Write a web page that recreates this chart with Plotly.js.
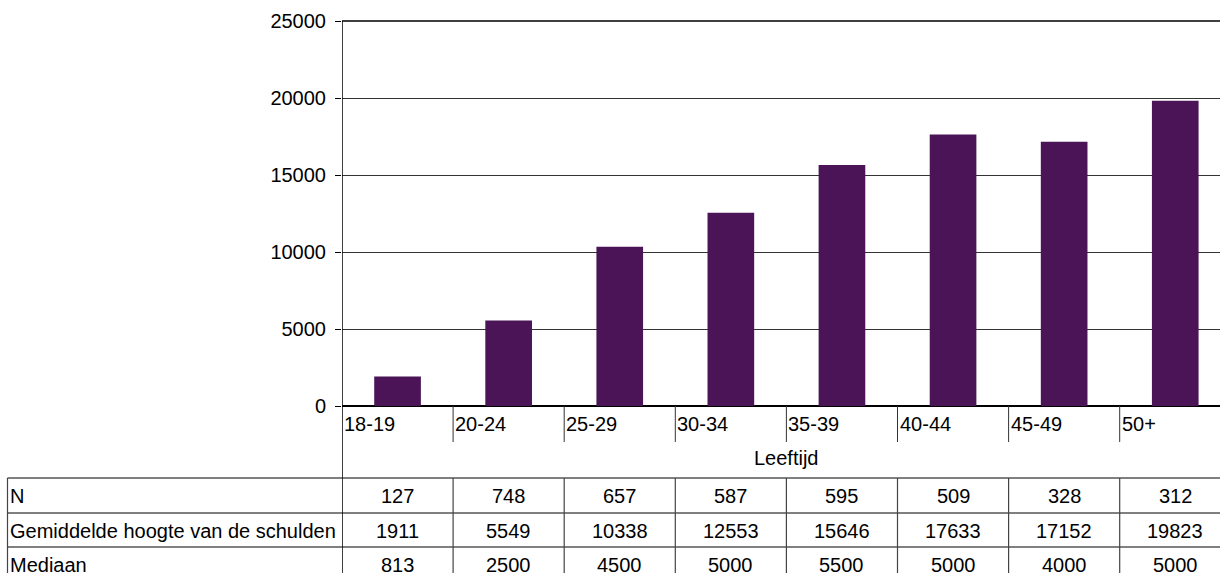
<!DOCTYPE html>
<html>
<head>
<meta charset="utf-8">
<script src="https://cdn.plot.ly/plotly-3.0.1.min.js"></script>
<style>
html, body { margin: 0; padding: 0; background: #fff; overflow: hidden; }
#chart { width: 1220px; height: 573px; }
</style>
</head>
<body>
<div id="chart"></div>
<script>
// ---- data ----
const categories = ['18-19', '20-24', '25-29', '30-34', '35-39', '40-44', '45-49', '50+'];
const nValues = [127, 748, 657, 587, 595, 509, 328, 312];
const meanValues = [1911, 5549, 10338, 12553, 15646, 17633, 17152, 19823];
const medianValues = [813, 2500, 4500, 5000, 5500, 5000, 4000, 5000];
const rowLabels = ['N', 'Gemiddelde hoogte van de schulden', 'Mediaan'];
const tableRows = [nValues, meanValues, medianValues];
const yTicks = [0, 5000, 10000, 15000, 20000, 25000];
const xTitle = 'Leeftijd';

// ---- layout constants ----
const W = 1220, H = 573;
const M = { l: 342, r: 0, t: 21, b: 167 };
const plotW = W - M.l - M.r, plotH = H - M.t - M.b;
const bottomPx = H - M.b;
const catPx = 111.1;                       // width of one category in pixels
const py = p => (bottomPx - p) / plotH;    // pixel row -> paper y
const px = p => (p - M.l) / plotW;         // pixel col -> paper x
const FONT = 'Liberation Sans, Arial, sans-serif';
const FS = 20;
const lineCol = '#000';

const shapes = [];
const annotations = [];

// top border
shapes.push({ type: 'line', xref: 'paper', yref: 'paper', x0: 0, x1: 1, y0: 1, y1: 1,
  line: { color: '#000', width: 1.5 } });
// y-axis line extended down through the table
shapes.push({ type: 'line', xref: 'x', yref: 'paper', x0: -0.5, x1: -0.5, y0: 1, y1: py(H + 5),
  line: { color: lineCol, width: 1.5 } });

// category dividers under axis, labels
categories.forEach((c, i) => {
  if (i > 0) {
    shapes.push({ type: 'line', xref: 'x', yref: 'paper', x0: i - 0.5, x1: i - 0.5,
      y0: 0, y1: py(442), line: { color: '#333', width: 1 } });
  }
  annotations.push({ xref: 'x', yref: 'paper', x: i - 0.5, y: py(424), xanchor: 'left', yanchor: 'middle',
    xshift: 0, text: c, showarrow: false, font: { family: FONT, size: FS, color: '#000' } });
});

// axis title
annotations.push({ xref: 'x', yref: 'paper', x: (categories.length - 1) / 2, y: py(458),
  xanchor: 'center', yanchor: 'middle', text: xTitle, showarrow: false,
  font: { family: FONT, size: FS, color: '#000' } });

// table grid
const rowTops = [478, 513, 547, 581];
rowTops.slice(0, 3).forEach(r => {
  shapes.push({ type: 'line', xref: 'paper', yref: 'paper', x0: px(7.5), x1: 1, y0: py(r), y1: py(r),
    line: { color: '#000', width: 1 } });
});
shapes.push({ type: 'line', xref: 'paper', yref: 'paper', x0: px(7.5), x1: px(7.5), y0: py(478), y1: py(H + 5),
  line: { color: '#444', width: 1.2 } });
for (let i = 1; i <= categories.length; i++) {
  shapes.push({ type: 'line', xref: 'x', yref: 'paper', x0: i - 0.5, x1: i - 0.5, y0: py(478), y1: py(H + 5),
    line: { color: '#444', width: 1.2 } });
}

// table text
rowLabels.forEach((lab, r) => {
  const yc = py((rowTops[r] + rowTops[r + 1]) / 2 + 0.5);
  annotations.push({ xref: 'paper', yref: 'paper', x: px(8), y: yc, xanchor: 'left', yanchor: 'middle',
    text: lab, showarrow: false, font: { family: FONT, size: FS, color: '#000' } });
  tableRows[r].forEach((v, i) => {
    annotations.push({ xref: 'x', yref: 'paper', x: i, y: yc, xanchor: 'center', yanchor: 'middle',
      text: String(v), showarrow: false, font: { family: FONT, size: FS, color: '#000' } });
  });
});

const trace = {
  type: 'bar',
  x: categories,
  y: meanValues,
  marker: { color: '#4a1456', line: { width: 0 } },
  hoverinfo: 'x+y'
};

const layout = {
  width: W, height: H,
  margin: M,
  paper_bgcolor: '#fff', plot_bgcolor: '#fff',
  showlegend: false,
  bargap: 0.58,
  font: { family: FONT, size: FS, color: '#000' },
  xaxis: {
    type: 'category',
    range: [-0.5, -0.5 + plotW / catPx],
    showticklabels: false, ticks: '', showgrid: false, zeroline: false, showline: false,
    fixedrange: true
  },
  yaxis: {
    range: [0, 25000],
    tickvals: yTicks,
    ticktext: yTicks.map(String),
    ticks: 'outside', ticklen: 6, tickcolor: '#000', tickwidth: 1,
    ticklabelstandoff: 5,
    tickfont: { family: FONT, size: FS, color: '#000' },
    showgrid: true, gridcolor: '#333', gridwidth: 1,
    zeroline: true, zerolinecolor: '#000', zerolinewidth: 1.5,
    showline: false,
    fixedrange: true
  },
  shapes: shapes,
  annotations: annotations
};

Plotly.newPlot('chart', [trace], layout, { displayModeBar: false, staticPlot: true });
</script>
</body>
</html>
